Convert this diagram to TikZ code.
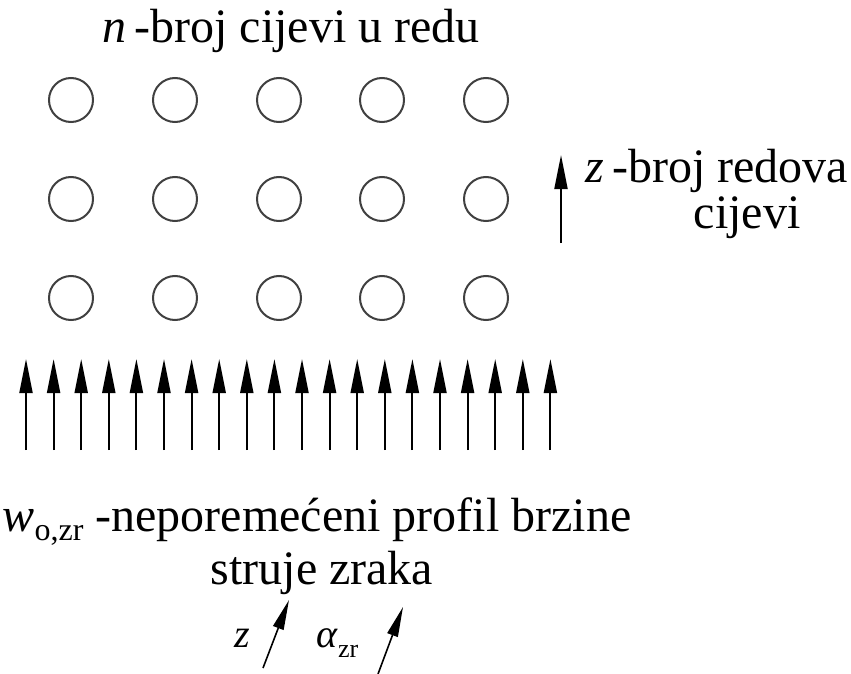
\documentclass[tikz,border=0pt]{standalone}
\usepackage{fontspec}
\setmainfont{Liberation Serif}
\usetikzlibrary{arrows.meta,positioning}

\begin{document}
\begin{tikzpicture}[x=0.5pt,y=-0.5pt,
    tube/.style={draw=black!75,line width=1pt,circle,minimum size=22pt,inner sep=0pt},
    flow/.style={-{Triangle[length=17pt,width=6.5pt]},line width=1pt},
    tilt/.style={-{Triangle[length=15pt,width=5.5pt]},line width=0.8pt},
    lab/.style={font=\rmfamily\fontsize{24}{28}\selectfont,inner sep=0pt,anchor=base},
    sym/.style={font=\rmfamily\fontsize{20}{24}\selectfont,inner sep=0pt,anchor=base}]
    \useasboundingbox (0,0) rectangle (851,674);
    % tube bank
    \node[lab] (title) at (291,43) {\textit{n}\,-broj cijevi u redu};
    \foreach \r/\y in {1/100,2/199,3/298}
      \foreach \c/\x in {1/71,2/175,3/279,4/382,5/486}
        \node[tube] (t\r\c) at (\x,\y) {};
    % rows direction
    \coordinate (zs) at (561,243);
    \coordinate (ze) at (561,155);
    \draw[flow] (zs) -- (ze);
    \node[lab,anchor=base west] (zlab) at (585,183) {\textit{z}\,-broj redova};
    \node[lab] (zlab2) at (747,228) {cijevi};
    % incoming air
    \foreach \i in {0,...,19} {
      \coordinate (fa\i) at (26+27.6*\i,450);
      \coordinate (fb\i) at (26+27.6*\i,359);
      \draw[flow] (fa\i) -- (fb\i);
    }
    \node[lab] (wlab) at (317,531) {\textit{w}\raisebox{-0.2em}{\fontsize{16}{16}\selectfont o,zr}\ -neporemećeni profil brzine};
    \node[lab] (wlab2) at (322,584) {struje zraka};
    % bottom symbols
    \node[sym] (zsym) at (242,647) {\textit{z}};
    \coordinate (za) at (263,668);
    \coordinate (zb) at (289,600);
    \draw[tilt] (za) -- (zb);
    \node[sym,anchor=base west] (asym) at (316,647) {\textit{α}\raisebox{-0.25em}{\fontsize{13}{13}\selectfont zr}};
    \coordinate (aa) at (378,674);
    \coordinate (ab) at (403,607);
    \draw[tilt] (aa) -- (ab);
\end{tikzpicture}
\end{document}
